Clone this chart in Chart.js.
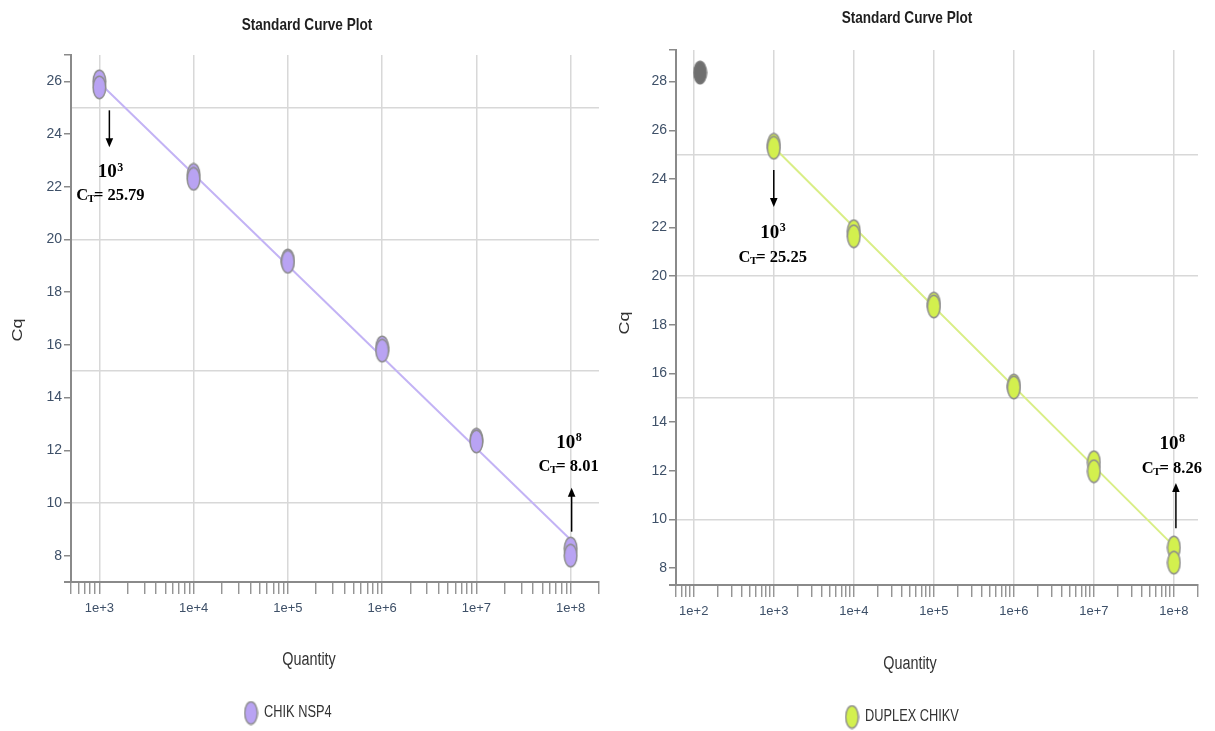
<!DOCTYPE html>
<html><head><meta charset="utf-8">
<script src="https://cdn.jsdelivr.net/npm/chart.js@4"></script>
<style>
html,body{margin:0;padding:0;background:#fff;}
#wrap{position:relative;width:1215px;height:731px;overflow:hidden;}
.box{position:absolute;top:0;height:731px;}
</style></head><body>
<div id="wrap">
<div class="box" style="left:0;width:607px"><canvas id="c1"></canvas></div>
<div class="box" style="left:607px;width:608px"><canvas id="c2"></canvas></div>
</div>
<script>
// ---------------- DATA ----------------
const titleText = 'Standard Curve Plot';
const xAxisTitle = 'Quantity';
const yAxisTitle = 'Cq';

// Left chart: CHIK NSP4
const nspName = 'CHIK NSP4';
const nspQuantity = [1e3, 1e3, 1e4, 1e4, 1e5, 1e5, 1e6, 1e6, 1e7, 1e7, 1e8, 1e8];
const nspCq       = [26.0, 25.77, 22.45, 22.3, 19.2, 19.15, 15.9, 15.78, 12.4, 12.33, 8.27, 8.0];
const nspFitQuantity = [1e3, 1e8];
const nspFitCq       = [25.95, 8.6];
const nspXRange = [500, 2e8];
const nspYRange = [7, 27];
const nspXTickLabels = ['1e+3', '1e+4', '1e+5', '1e+6', '1e+7', '1e+8'];
const nspYTickLabels = [8, 10, 12, 14, 16, 18, 20, 22, 24, 26];
const nspYGrid = [10, 15, 20, 25];

// Right chart: DUPLEX CHIKV
const dupName = 'DUPLEX CHIKV';
const dupQuantity = [1e3, 1e3, 1e4, 1e4, 1e5, 1e5, 1e6, 1e6, 1e7, 1e7, 1e8, 1e8];
const dupCq       = [25.4, 25.28, 21.85, 21.64, 18.87, 18.75, 15.5, 15.42, 12.35, 11.98, 8.84, 8.22];
const dupOutlierQuantity = [120];
const dupOutlierCq       = [28.37];
const dupFitQuantity = [1e3, 1e8];
const dupFitCq       = [25.3, 8.9];
const dupXRange = [60, 2e8];
const dupYRange = [7.3, 29.3];
const dupXTickLabels = ['1e+2', '1e+3', '1e+4', '1e+5', '1e+6', '1e+7', '1e+8'];
const dupYTickLabels = [8, 10, 12, 14, 16, 18, 20, 22, 24, 26, 28];
const dupYGrid = [10, 15, 20, 25];

// Annotations (quantity anchor, Cq positions)
const nspNotes = [
  {q: 1e3, dx: 10, from: 24.9, to: 23.5, yPow: 22.54, yCt: 21.67, exp: '3', ct: '25.79', tdx: 11},
  {q: 1e8, dx: 1, from: 8.91, to: 10.58, yPow: 12.29, yCt: 11.38, exp: '8', ct: '8.01', tdx: -2}
];
const dupNotes = [
  {q: 1e3, dx: 0, from: 24.37, to: 22.84, yPow: 21.77, yCt: 20.77, exp: '3', ct: '25.25', tdx: -1},
  {q: 1e8, dx: 2, from: 9.63, to: 11.49, yPow: 13.09, yCt: 12.10, exp: '8', ct: '8.26', tdx: -2}
];

// ---------------- RENDERING ----------------
const SANS = "'Liberation Sans Narrow', 'Arial Narrow', 'Liberation Sans', Arial, sans-serif";
const SERIF = "'Liberation Serif', 'Times New Roman', serif";
const TICK_COLOR = '#3e5068';
const AXIS_COLOR = '#8a8a8a';
const GRID_COLOR = '#d8d8d8';
const SQUEEZE = 0.8;

function ellipseImg(fill, stroke) {
  const c = document.createElement('canvas');
  c.width = 15; c.height = 25;
  const g = c.getContext('2d');
  g.beginPath();
  g.ellipse(7.5, 12.5, 6.3, 11.3, 0, 0, Math.PI * 2);
  g.fillStyle = fill; g.fill();
  if (stroke) { g.lineWidth = 1.5; g.strokeStyle = stroke; g.stroke(); }
  return c;
}

function zip(xs, ys) { return xs.map((x, i) => ({x: x, y: ys[i]})); }
function isPow10(v) { const l = Math.log10(v); return Math.abs(l - Math.round(l)) < 1e-9; }

function logTicks(min, max) {
  const out = [];
  for (let e = Math.floor(Math.log10(min)); e <= Math.ceil(Math.log10(max)); e++) {
    for (let m = 1; m <= 9; m++) {
      const v = m * Math.pow(10, e);
      if (v >= min * 0.9999 && v <= max * 1.0001) out.push(v);
    }
  }
  return out;
}

function narrowText(ctx, text, x, y, font, align, rot) {
  ctx.save();
  ctx.translate(x, y);
  if (rot) ctx.rotate(rot);
  ctx.scale(rot ? 1 : SQUEEZE, rot ? SQUEEZE : 1);
  ctx.font = font; ctx.textAlign = align; ctx.textBaseline = 'middle';
  ctx.fillText(text, 0, 0);
  ctx.restore();
}

function drawCt(ctx, cx, cy, ct) {
  const big = 'bold 16.5px ' + SERIF, small = 'bold 11px ' + SERIF;
  ctx.font = big; const wC = ctx.measureText('C').width;
  const rest = '= ' + ct; const wR = ctx.measureText(rest).width;
  ctx.font = small; const wT = ctx.measureText('T').width;
  const total = wC + wT + wR - 1.5;
  let x = cx - total / 2;
  ctx.textAlign = 'left'; ctx.textBaseline = 'middle';
  ctx.font = big; ctx.fillText('C', x, cy); x += wC;
  ctx.font = small; ctx.fillText('T', x - 0.5, cy + 4); x += wT - 1.5;
  ctx.font = big; ctx.fillText(rest, x, cy);
}
function drawPow(ctx, cx, cy, exp) {
  const big = 'bold 19px ' + SERIF, small = 'bold 12px ' + SERIF;
  ctx.font = big; const w1 = ctx.measureText('10').width;
  ctx.font = small; const w2 = ctx.measureText(exp).width;
  let x = cx - (w1 + w2) / 2;
  ctx.textAlign = 'left'; ctx.textBaseline = 'middle';
  ctx.font = big; ctx.fillText('10', x, cy);
  ctx.font = small; ctx.fillText(exp, x + w1 + 0.5, cy - 5);
}
function drawArrow(ctx, x, y1, y2) {
  const dir = y2 > y1 ? 1 : -1;
  ctx.strokeStyle = '#000'; ctx.fillStyle = '#000'; ctx.lineWidth = 1.5;
  ctx.beginPath(); ctx.moveTo(x, y1); ctx.lineTo(x, y2 - dir * 7); ctx.stroke();
  ctx.beginPath(); ctx.moveTo(x, y2); ctx.lineTo(x - 3.8, y2 - dir * 9); ctx.lineTo(x + 3.8, y2 - dir * 9); ctx.closePath(); ctx.fill();
}

function makeChart(id, cfg) {
  const xTicksAll = logTicks(cfg.xRange[0], cfg.xRange[1]);
  const decadeLabel = v => { if (!isPow10(v)) return ''; const s = '1e+' + Math.round(Math.log10(v)); return cfg.xLabels.includes(s) ? s : ''; };
  const yTicksAll = Array.from(new Set([...cfg.yLabels, ...cfg.yGrid, cfg.yRange[1]])).sort((a, b) => a - b);

  const deco = {
    id: 'deco_' + id,
    afterDraw(chart) {
      const ctx = chart.ctx, a = chart.chartArea, xs = chart.scales.x, ys = chart.scales.y;
      ctx.save();
      // x axis extension to the left of the y axis
      ctx.strokeStyle = AXIS_COLOR; ctx.lineWidth = 2;
      ctx.beginPath(); ctx.moveTo(a.left - 7, a.bottom); ctx.lineTo(a.left, a.bottom); ctx.stroke();
      // title
      ctx.fillStyle = '#1e1e1e';
      narrowText(ctx, titleText, cfg.titlePos[0], cfg.titlePos[1], 'bold 17px ' + SANS, 'center');
      // axis titles
      ctx.fillStyle = '#333';
      narrowText(ctx, xAxisTitle, cfg.xTitlePos[0], cfg.xTitlePos[1], '18px ' + SANS, 'center');
      narrowText(ctx, yAxisTitle, cfg.yTitlePos[0], cfg.yTitlePos[1], '18px ' + SANS, 'center', -Math.PI / 2);
      // legend
      ctx.drawImage(cfg.img, cfg.legendPos[0] - 7.5, cfg.legendPos[1] - 12.5);
      ctx.fillStyle = '#333';
      narrowText(ctx, cfg.name, cfg.legendPos[0] + 13, cfg.legendPos[1], '16px ' + SANS, 'left');
      // annotations
      cfg.notes.forEach(n => {
        const px = xs.getPixelForValue(n.q);
        drawArrow(ctx, px + n.dx, ys.getPixelForValue(n.from), ys.getPixelForValue(n.to));
        ctx.fillStyle = '#000';
        drawPow(ctx, px + n.tdx, ys.getPixelForValue(n.yPow), n.exp);
        drawCt(ctx, px + n.tdx, ys.getPixelForValue(n.yCt), n.ct);
      });
      ctx.restore();
    }
  };

  const datasets = [
    {type: 'line', label: 'fit', data: zip(cfg.fitQ, cfg.fitCq), borderColor: cfg.lineColor, borderWidth: 2,
     pointRadius: 0, fill: false, order: 5},
    {type: 'scatter', label: cfg.name, data: zip(cfg.q, cfg.cq), pointStyle: cfg.img, pointRadius: 7, order: 1}
  ];
  if (cfg.outQ) datasets.push({type: 'scatter', label: 'excluded', data: zip(cfg.outQ, cfg.outCq),
    pointStyle: cfg.outImg, pointRadius: 7, order: 0});

  return new Chart(document.getElementById(id), {
    type: 'scatter',
    data: {datasets},
    options: {
      responsive: true, maintainAspectRatio: false, animation: false,
      layout: {padding: cfg.padding},
      plugins: {legend: {display: false}, title: {display: false}, tooltip: {enabled: false}},
      scales: {
        x: {
          type: 'logarithmic', min: cfg.xRange[0], max: cfg.xRange[1],
          afterFit: s => { s.height = 40; },
          afterBuildTicks: s => { s.ticks = xTicksAll.map(v => ({value: v})); },
          ticks: {autoSkip: false, maxRotation: 0, minRotation: 0, padding: 7, color: TICK_COLOR,
                  font: {family: SANS, size: 13}, callback: v => decadeLabel(v)},
          grid: {color: c => (c.tick && isPow10(c.tick.value)) ? GRID_COLOR : 'rgba(0,0,0,0)',
                 lineWidth: 1.5, tickColor: AXIS_COLOR, tickLength: 12, tickWidth: 1.3},
          border: {color: AXIS_COLOR, width: 2}
        },
        y: {
          type: 'linear', min: cfg.yRange[0], max: cfg.yRange[1],
          afterFit: s => { s.width = cfg.yWidth; },
          afterBuildTicks: s => { s.ticks = yTicksAll.map(v => ({value: v})); },
          ticks: {autoSkip: false, padding: 2, color: TICK_COLOR, font: {family: SANS, size: 14},
                  callback: v => cfg.yLabels.includes(v) ? String(v) : ''},
          grid: {color: c => (c.tick && cfg.yGrid.includes(c.tick.value)) ? GRID_COLOR : 'rgba(0,0,0,0)',
                 lineWidth: 1.5,
                 tickColor: c => (c.tick && (cfg.yLabels.includes(c.tick.value) || c.tick.value === cfg.yRange[1])) ? AXIS_COLOR : 'rgba(0,0,0,0)',
                 tickLength: 7, tickWidth: 1.5},
          border: {color: AXIS_COLOR, width: 2}
        }
      }
    },
    plugins: [deco]
  });
}

const nspImg = ellipseImg('#b9a3f3', '#8d8d8d');
const dupImg = ellipseImg('#d3f04e', '#8d8d8d');
const outImg = ellipseImg('#6f6f6f', '#777777');

makeChart('c1', {
  name: nspName, q: nspQuantity, cq: nspCq, fitQ: nspFitQuantity, fitCq: nspFitCq,
  xRange: nspXRange, yRange: nspYRange, xLabels: nspXTickLabels, yLabels: nspYTickLabels, yGrid: nspYGrid,
  notes: nspNotes, img: nspImg, lineColor: '#c3b3f5',
  padding: {left: 0, right: 7, top: 55, bottom: 109}, yWidth: 71,
  titlePos: [307, 25], xTitlePos: [309, 660], yTitlePos: [18, 330], legendPos: [251, 713]
});
makeChart('c2', {
  name: dupName, q: dupQuantity, cq: dupCq, fitQ: dupFitQuantity, fitCq: dupFitCq,
  outQ: dupOutlierQuantity, outCq: dupOutlierCq, outImg: outImg,
  xRange: dupXRange, yRange: dupYRange, xLabels: dupXTickLabels, yLabels: dupYTickLabels, yGrid: dupYGrid,
  notes: dupNotes, img: dupImg, lineColor: '#d9ee86',
  padding: {left: 0, right: 17, top: 50, bottom: 106}, yWidth: 69,
  titlePos: [300, 18], xTitlePos: [303, 664], yTitlePos: [18, 323], legendPos: [245, 717]
});
</script>
</body></html>
